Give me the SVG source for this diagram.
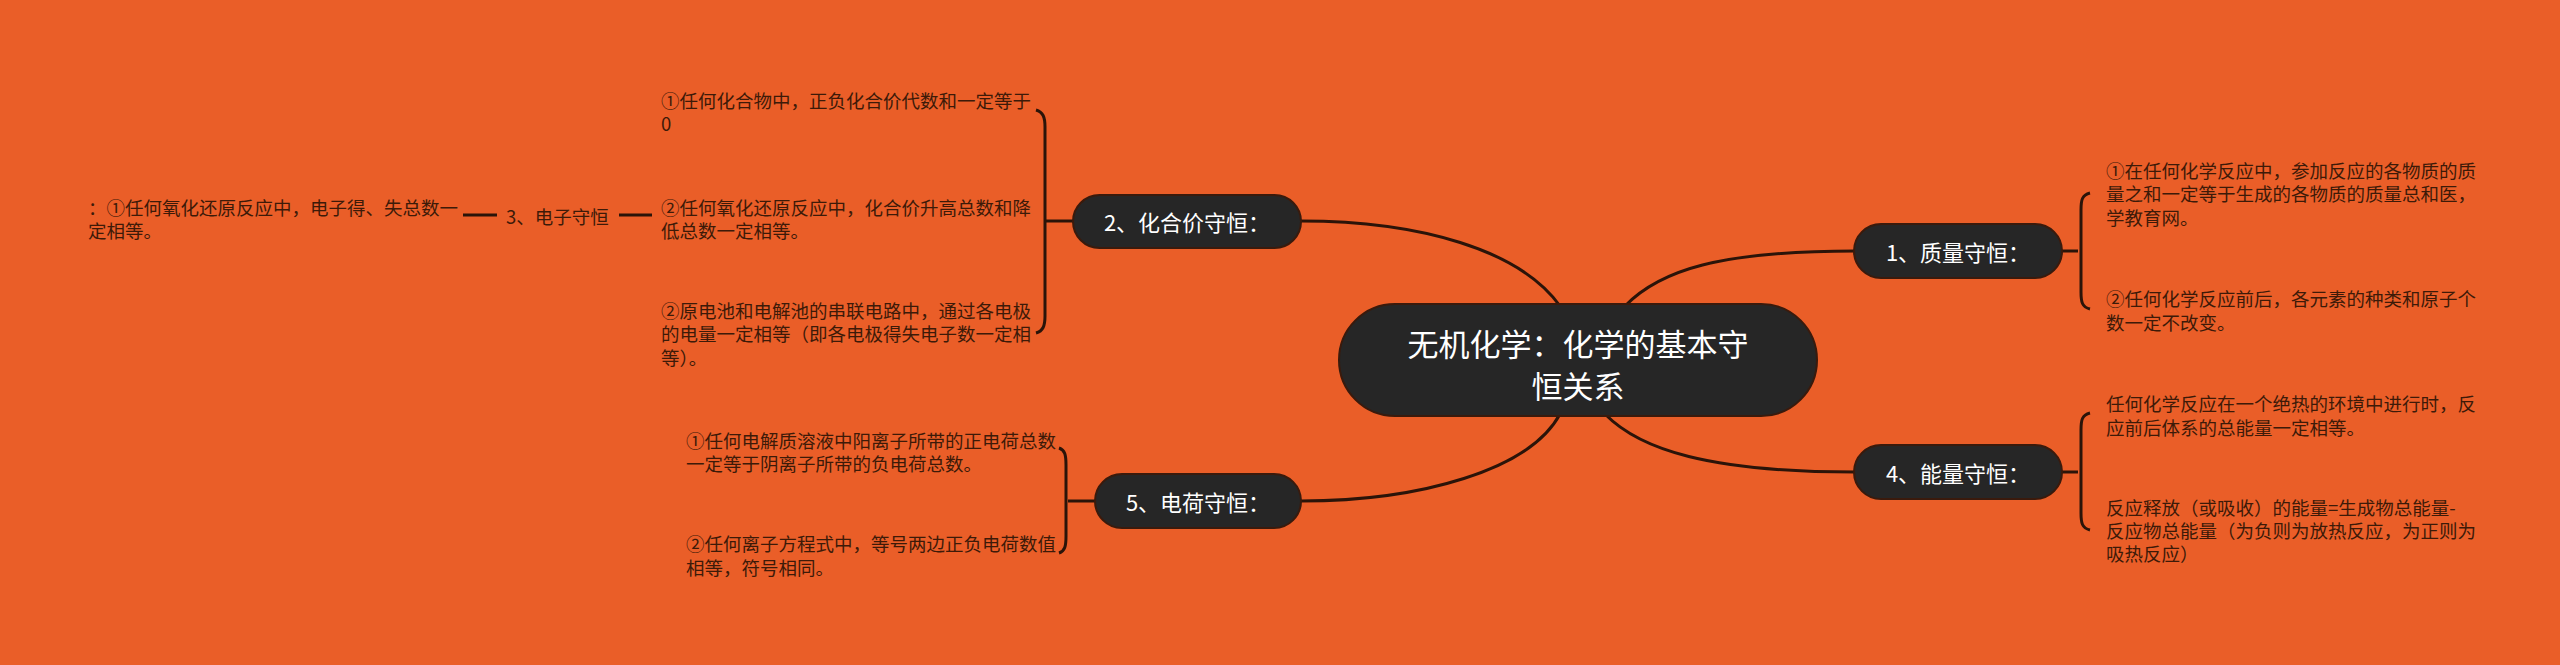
<svg xmlns="http://www.w3.org/2000/svg" width="2560" height="665" viewBox="0 0 2560 665">
<style>
.bg{fill:#EA5E28}
.node rect{fill:#262626;stroke:#3a1a0c;stroke-width:2}
.nt{font-family:"Noto Sans CJK SC","Noto Sans",sans-serif;fill:#ffffff;dominant-baseline:central;text-anchor:middle}
.lt{font-family:"Noto Sans CJK SC","Noto Sans",sans-serif;font-size:18.5px;fill:#3d1a08;dominant-baseline:central}
.c{fill:none;stroke:#2b1409;stroke-width:3}
</style>
<rect class="bg" width="2560" height="665"/>
<g id="connectors">
<path class="c" d="M1560,306 C1520,250 1420,221 1301,221"/>
<path class="c" d="M1625,306 C1660,270 1720,251 1855,251"/>
<path class="c" d="M1560,414 C1530,470 1420,501 1301,501"/>
<path class="c" d="M1605,414 C1640,450 1710,472 1855,472"/>
<path class="c" d="M2062,251 H2078 M2090,193 C2082,195 2081,200 2081,210 V292 C2081,302 2082,307 2090,309"/>
<path class="c" d="M2062,472 H2078 M2090,413 C2082,415 2081,420 2081,430 V513 C2081,523 2082,528 2090,530"/>
<path class="c" d="M1073,221 H1046 M1036,110 C1043,112 1045,117 1045,127 V316 C1045,326 1043,331 1036,333"/>
<path class="c" d="M1095,501 H1068 M1059,448 C1065,450 1066,455 1066,465 V536 C1066,546 1065,551 1059,553"/>
<path class="c" d="M652,215 H619 M497,215 H463"/>
</g>
<g id="center" class="node"><rect x="1339" y="304" width="478" height="112" rx="56"/>
<text class="nt" x="1578" y="342" font-size="31">无机化学：化学的基本守</text>
<text class="nt" x="1578" y="384" font-size="31">恒关系</text></g>
<g id="n1" class="node"><rect x="1854" y="224" width="208" height="54" rx="27"/><text class="nt" x="1958" y="251" font-size="22">1、质量守恒：</text></g>
<g id="n4" class="node"><rect x="1854" y="445" width="208" height="54" rx="27"/><text class="nt" x="1958" y="472" font-size="22">4、能量守恒：</text></g>
<g id="n2" class="node"><rect x="1073" y="195" width="228" height="53" rx="26.5"/><text class="nt" x="1187" y="221" font-size="22">2、化合价守恒：</text></g>
<g id="n5" class="node"><rect x="1095" y="474" width="206" height="54" rx="27"/><text class="nt" x="1198" y="501" font-size="22">5、电荷守恒：</text></g>
<g id="l1a"><text class="lt" x="2106" y="170">①在任何化学反应中，参加反应的各物质的质</text><text class="lt" x="2106" y="193">量之和一定等于生成的各物质的质量总和医，</text><text class="lt" x="2106" y="217">学教育网。</text></g>
<g id="l1b"><text class="lt" x="2106" y="298">②任何化学反应前后，各元素的种类和原子个</text><text class="lt" x="2106" y="322">数一定不改变。</text></g>
<g id="l4a"><text class="lt" x="2106" y="403">任何化学反应在一个绝热的环境中进行时，反</text><text class="lt" x="2106" y="427">应前后体系的总能量一定相等。</text></g>
<g id="l4b"><text class="lt" x="2106" y="507">反应释放（或吸收）的能量=生成物总能量-</text><text class="lt" x="2106" y="530">反应物总能量（为负则为放热反应，为正则为</text><text class="lt" x="2106" y="553">吸热反应）</text></g>
<g id="l2a"><text class="lt" x="661" y="100">①任何化合物中，正负化合价代数和一定等于</text><text class="lt" x="661" y="123">0</text></g>
<g id="l2b"><text class="lt" x="661" y="207">②任何氧化还原反应中，化合价升高总数和降</text><text class="lt" x="661" y="230">低总数一定相等。</text></g>
<g id="l2c"><text class="lt" x="661" y="310">②原电池和电解池的串联电路中，通过各电极</text><text class="lt" x="661" y="333">的电量一定相等（即各电极得失电子数一定相</text><text class="lt" x="661" y="357">等）。</text></g>
<g id="l3"><text class="lt" x="506" y="216">3、电子守恒</text></g>
<g id="l3a"><text class="lt" x="88" y="207">：①任何氧化还原反应中，电子得、失总数一</text><text class="lt" x="88" y="230">定相等。</text></g>
<g id="l5a"><text class="lt" x="686" y="440">①任何电解质溶液中阳离子所带的正电荷总数</text><text class="lt" x="686" y="463">一定等于阴离子所带的负电荷总数。</text></g>
<g id="l5b"><text class="lt" x="686" y="543">②任何离子方程式中，等号两边正负电荷数值</text><text class="lt" x="686" y="567">相等，符号相同。</text></g>
</svg>
